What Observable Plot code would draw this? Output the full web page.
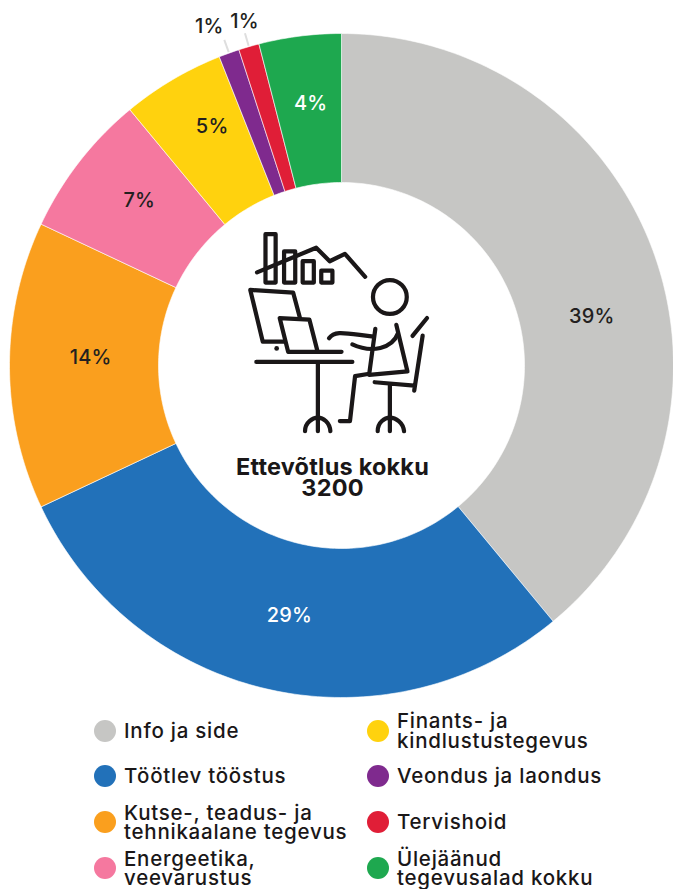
<!DOCTYPE html>
<html lang="et">
<head>
<meta charset="utf-8">
<script src="https://cdn.jsdelivr.net/npm/d3@7"></script>
<script src="https://cdn.jsdelivr.net/npm/@observablehq/plot@0.6"></script>
<style>
  html, body { margin: 0; padding: 0; background: #fff; overflow: hidden; }
  body { width: 673px; height: 889px; position: relative; font-family: Inter, "Noto Sans", sans-serif; color: #1a1718; }
  #chart svg { display: block; }
  .legend {
    height: 189px; box-sizing: border-box; padding: 8px 0 0 94px; overflow: hidden;
    display: grid; grid-template-columns: 273px 290px; grid-template-rows: 45px 46px 46px 46px;
    grid-auto-flow: column;
  }
  .item { display: flex; align-items: center; gap: 8px; font-size: 20.5px; letter-spacing: 0.75px; font-weight: 500; line-height: 19.5px; white-space: pre-line; }
  .swatch { width: 22px; height: 22px; border-radius: 50%; flex: none; }
</style>
</head>
<body>
<div id="chart"></div>
<div class="legend" id="legend"></div>
<script>
// Share of companies by field of activity, in percent
const categories = [
  "Info ja side", "Töötlev tööstus", "Kutse-, teadus- ja tehnikaalane tegevus",
  "Energeetika, veevarustus", "Finants- ja kindlustustegevus",
  "Veondus ja laondus", "Tervishoid", "Ülejäänud tegevusalad kokku"
];
const shares = [39, 29, 14, 7, 5, 1, 1, 4];
const colours = ["#c6c6c4", "#2271b9", "#fa9f1e", "#f5789f", "#ffd20e", "#7f2a8e", "#e01e37", "#1ea84f"];
const legendLines = [
  "Info ja side", "Töötlev tööstus", "Kutse-, teadus- ja\ntehnikaalane tegevus",
  "Energeetika,\nveevarustus", "Finants- ja\nkindlustustegevus",
  "Veondus ja laondus", "Tervishoid", "Ülejäänud\ntegevusalad kokku"
];
const totalLabel = "Ettevõtlus kokku\n3200";

// Ring size and per-slice label placement in chart units
const outerR = 332, innerR = 183;
const labelInk = ["#231f20", "#fff", "#231f20", "#231f20", "#231f20", "#231f20", "#231f20", "#fff"];
const labelTurn = [8.7, -0.8, 1.8, 1.4, 2.2, -1.5, 0.45, 0.5];
const labelRadius = [255, 255, 251, 261, 272, 364, 357.5, 264];
const leaderFor = new Set(["Veondus ja laondus", "Tervishoid"]);

const polar = (deg, r) => ({x: r * Math.sin(deg * Math.PI / 180), y: -r * Math.cos(deg * Math.PI / 180)});

const total = d3.sum(shares);
const ends = d3.cumsum(shares).map(v => v / total * 360);
const slices = categories.map((name, i) => ({name, share: shares[i], start: i ? ends[i - 1] : 0, end: ends[i], i}));

// Each slice outline: outer arc forward, inner arc back
const outlines = slices.flatMap(s => {
  const steps = Math.max(2, Math.ceil(s.end - s.start));
  const at = d3.range(steps + 1).map(k => s.start + (s.end - s.start) * k / steps);
  const ring = [...at.map(a => polar(a, outerR)), ...at.slice().reverse().map(a => polar(a, innerR))];
  return [...ring, ring[0]].map(p => ({...p, name: s.name}));
});

const labels = slices.map(s => {
  const mid = (s.start + s.end) / 2;
  return {...polar(mid + labelTurn[s.i], labelRadius[s.i]), text: s.share + "%", ink: labelInk[s.i]};
});

const leaders = slices.filter(s => leaderFor.has(s.name)).map(s => {
  const mid = (s.start + s.end) / 2;
  const a = polar(mid, outerR + 1), b = polar(mid, outerR + 14);
  return {x1: a.x, y1: a.y, x2: b.x, y2: b.y};
});

// Line-art figure at a desk, drawn in the hole of the ring
function deskFigure() {
  const ns = "http://www.w3.org/2000/svg";
  const g = document.createElementNS(ns, "g");
  g.setAttribute("transform", "translate(230,220) scale(0.338)");
  g.setAttribute("fill", "none");
  g.setAttribute("stroke", "#1a1718");
  g.setAttribute("stroke-width", "12.5");
  g.setAttribute("stroke-linecap", "round");
  g.setAttribute("stroke-linejoin", "round");
  const strokes = [
    "M105 42H135V185H105Z", "M160 93H193V185H160Z", "M215 122H248V185H215Z", "M270 150H303V185H270Z",
    "M80 155L255 82L295 122L340 100L400 168",
    "M207 290L187 215L60 207L97 360H160",
    "M172 390L147 290L235 295L258 385M172 390H330",
    "M78 420H362M260 420V625",
    "M222 625C222 598 245 585 260 585C275 585 295 598 297 625",
    "M293 350C310 325 340 335 425 345",
    "M430 322L412 455L370 462L355 595H325",
    "M492 310L525 448L412 458",
    "M362 368C420 395 480 380 497 335",
    "M540 343L583 290M570 342L545 505M428 480L545 490M473 490V625",
    "M437 625C437 598 458 585 473 585C490 585 512 598 515 625"
  ];
  for (const d of strokes) {
    const p = document.createElementNS(ns, "path");
    p.setAttribute("d", d);
    g.appendChild(p);
  }
  const head = document.createElementNS(ns, "circle");
  head.setAttribute("cx", 473); head.setAttribute("cy", 228); head.setAttribute("r", 50);
  g.appendChild(head);
  const dot = document.createElementNS(ns, "circle");
  dot.setAttribute("cx", 138); dot.setAttribute("cy", 380); dot.setAttribute("r", 7);
  dot.setAttribute("fill", "#1a1718"); dot.setAttribute("stroke", "none");
  g.appendChild(dot);
  return g;
}

const plot = Plot.plot({
  width: 673,
  height: 700,
  margin: 0,
  x: {domain: [-341, 332], range: [0, 673], axis: null},
  y: {domain: [-365, 335], range: [0, 700], axis: null},
  color: {domain: categories, range: colours},
  style: {fontFamily: "Inter, 'Noto Sans', sans-serif", background: "transparent", letterSpacing: "0.2px"},
  marks: [
    Plot.line(outlines, {x: "x", y: "y", z: "name", fill: "name", stroke: "#fff", strokeWidth: 0.6, curve: "linear"}),
    Plot.link(leaders, {x1: "x1", y1: "y1", x2: "x2", y2: "y2", stroke: "#dedede", strokeWidth: 2}),
    Plot.text(labels, {x: "x", y: "y", text: "text", fill: {value: "ink", scale: null}, fontSize: 20, fontWeight: 500}),
    deskFigure,
    Plot.text([totalLabel], {text: d => d, frameAnchor: "top-left", textAnchor: "middle", dx: 332, dy: 459, lineHeight: 0.9, fontSize: 23.5, fontWeight: 700, fill: "#1a1718"})
  ]
});
document.getElementById("chart").appendChild(plot);

// Legend below the ring
const legend = d3.select("#legend");
categories.forEach((name, i) => {
  const item = legend.append("div").attr("class", "item");
  item.append("span").attr("class", "swatch").style("background", colours[i]);
  item.append("span").attr("class", "name").text(legendLines[i]);
});
</script>
</body>
</html>
